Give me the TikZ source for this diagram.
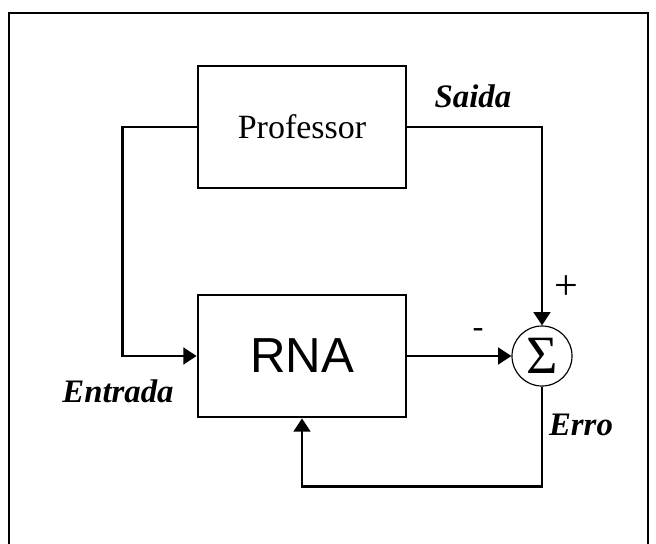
\documentclass[tikz,border=0pt]{standalone}
\usepackage{fontspec}
\setmainfont{Liberation Serif}
\setsansfont{Liberation Sans}
\usetikzlibrary{arrows.meta,positioning,shapes.geometric}

\begin{document}
\begin{tikzpicture}[
  x=0.03cm, y=-0.03cm,
  box/.style={
    draw,
    line width=2.3pt,
    minimum width=6.24cm,
    minimum height=3.66cm,
    align=center
  },
  sumnode/.style={
    draw,
    circle,
    line width=1pt,
    minimum size=1.8cm,
    inner sep=0pt
  },
  arrow/.style={-{Triangle[length=4mm,width=5mm]},line width=2.3pt},
  label/.style={font=\fontsize{28}{30}\selectfont\bfseries\itshape}
]
  \useasboundingbox (0,0) rectangle (656,544);
  % frame
  \draw[line width=1.7pt] (9,544) -- (9,13) -- (648,13) -- (648,544);

  \node[box,font=\fontsize{29}{32}\selectfont] (prof) at (302,127) {Professor};
  \node[box,font=\sffamily\fontsize{42}{46}\selectfont] (rna) at (302,356) {RNA};
  \node[sumnode,font=\fontsize{46}{48}\selectfont] (sum) at (542,356) {Σ};

  \draw[arrow] (prof.west) -- ++(-74,0) |- (rna.west);
  \draw[arrow] (prof.east) -| (sum.north);
  \draw[arrow] (rna.east) -- (sum.west);
  \draw[arrow] (sum.south) -- ++(0,100) -| (rna.south);

  \node[label] (saida) at (473,96) {Saida};
  \node[label] (entrada) at (118,391) {Entrada};
  \node[label] (erro) at (581,425) {Erro};
  \node[font=\fontsize{36}{38}\selectfont] (plus) at (566,288) {+};
  \node[font=\fontsize{28}{30}\selectfont] (minus) at (478,333) {-};
\end{tikzpicture}
\end{document}
